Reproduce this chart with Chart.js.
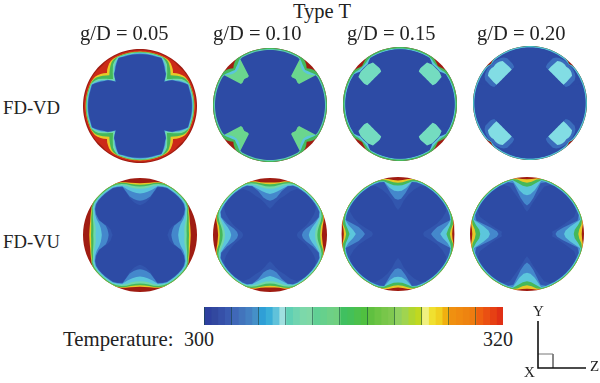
<!DOCTYPE html>
<html><head><meta charset="utf-8">
<script src="https://cdn.jsdelivr.net/npm/chart.js@4"></script>
<style>
html,body{margin:0;padding:0;background:#fff;width:600px;height:383px;overflow:hidden}
canvas{position:absolute;filter:blur(.4px)}
.t{position:absolute;font-family:"Liberation Serif",serif;line-height:20px;color:#222;white-space:pre}
</style></head><body>
<script>
// temperature scale and colour-bar strips
const tempMin = 300, tempMax = 320, tempBands = 11;
const barColors = ['#2e409f','#32489f','#3650a8','#3a5ab0','#4068b8','#4274bc','#4480c2','#4590c8','#2f9fd6','#3aaed8','#60c2da','#a0e0e0','#60d0b4','#70d4b0','#7cd8aa','#80d8a6','#60d094','#66d08c','#6ed086','#70d080','#40c060','#44c058','#4cc04c','#50c040','#60c040','#6cc444','#78c64a','#80c850','#90d060','#a0d450','#b0d630','#c0d820','#f0f080','#f0e030','#f0d020','#f0b010','#f09010','#f08a10','#ee8410','#ee7c10','#ee6010','#ea5012','#e64014','#e03015'];

// triad (axes symbol)
const triadAxisX = [0, 0, 48], triadAxisY = [47, 0, 0];
const triadBoxX = [0, 15, 15], triadBoxY = [14, 14, 0];

// contour levels: radius in % of the disk radius; outer level first
const pal = {dark:'#a01c12',red:'#cc2a18',yel:'#e8c828',grn:'#45b85a',teal:'#72d8a8',cyan:'#5cc6dc',lblue:'#4488cc',mid:'#3256ae',navy:'#2d4ba5',mint:'#6ad68e',aqua:'#74dcc0',pale:'#82dde4',halo:'#3a6cbc',rim:'#38b0a8'};

// FD-VD rows: angle from top 0..45 deg, step 3
const diskVD05 = [
 ['dark',[100,100,100,100,100,100,100,100,100,100,100,100,100,100,100,100]],
 ['red',[98,98,98,98,98,98,98,98,98,98,98,98,98,98,97,97]],
 ['yel',[95.5,95.5,95.5,95.5,95.5,95.5,95.5,95.5,95.5,95.5,95,94,92,89,86,82]],
 ['grn',[95,95,95,95,95,95,95,95,95,94.5,93.5,91.5,88,84,80,76]],
 ['teal',[94,94,94,94,94,94,94,94,94.5,92.5,90,87,81,76,71,67]],
 ['cyan',[93,93,93,93,93,93,93,93,93.5,91,87,83,77,73,67,63]],
 ['lblue',[92,92,92,92,92,92,92,92.3,92.8,89,85,81,76,73,66,60.5]],
 ['navy',[91,91,91,91,91,91,91,91.5,92,88,83.5,79,75,72,66,60]]];
const diskVD10 = [
 ['dark',[100,100,100,100,100,100,100,100,100,100,100,100,100,100,100,100]],
 ['grn',[100,100,100,100,100,100,100,100,100,100,100,100,100,98,95,91]],
 ['cyan',[98,98,98,98,98,98,98,98,98,98,98,97,94,91,89,87]],
 ['mint',[97,97,97,97,97,97,97,97,97,97,97,96,90,86,84,83]],
 ['navy',[96.5,96.5,96.5,96.5,96.5,96.5,96.5,96.5,96.5,96.5,96.5,95.5,63,62,63,64]]];
const diskVD15 = [
 ['dark',[100,100,100,100,100,100,100,100,100,100,100,100,100,100,100,100]],
 ['grn',[100,100,100,100,100,100,100,100,100,100,100,100,100,98,96,94]],
 ['cyan',[97.5,97.5,97.5,97.5,97.5,97.5,97.5,97.5,97.5,97.5,97.5,97,96,94,93,93]],
 ['navy',[96,96,96,96,96,96,96,96,96,96,96,96,93,90,90,90]],
 ['aqua',[60,60,60,60,60,60,60,60,60,60,74,87,88,89,89,89]],
 ['navy',[95.5,95.5,95.5,95.5,95.5,95.5,95.5,95.5,95.5,95.5,66,65,64.4,64,63.7,63.6]]];
const diskVD20 = [
 ['dark',[100,100,100,100,100,100,100,100,100,100,100,100,100,100,100,100]],
 ['rim',[100,100,100,100,100,100,100,100,100,100,100,100,100,100,99,97]],
 ['cyan',[99,99,99,99,99,99,99,99,99,99,99,99,99,99,98,96]],
 ['navy',[97.5,97.5,97.5,97.5,97.5,97.5,97.5,97.5,97.5,97.5,97.5,97.5,97.5,97.5,97,95.5]],
 ['halo',[60,60,60,60,60,60,60,60,76,88,92,94,95,96,96,95]],
 ['pale',[60,60,60,60,60,60,60,60,60,60,74,88,90,91,91,90]],
 ['navy',[97,97,97,97,97,97,97,97,68.5,67.3,66.3,65.4,64.8,64.3,64.1,64]]];

// FD-VU rows: angle from top 0..90 deg, step 5
const diskVU05 = [
 ['dark',[100,100,100,100,100,100,100,100,100,100,100,100,100,100,100,100,100,100,100]],
 ['yel',[91,91.5,93,96,98.5,100,100,100,100,100,100,100,98,95,92.5,90.5,89.5,89,89]],
 ['grn',[88,89,91,94.5,97.5,99.5,100,100,100,100,100,100,98,93.5,91,88.5,87,86,86]],
 ['teal',[85,86,88,92,95,97.5,98.5,98.5,98.5,98.5,98.5,98,96,91,88,85,83,82,82]],
 ['cyan',[81,82,84,89,93,96,97.5,97.5,97.5,97.5,97.5,97,94.5,89.5,86,82,79,78,78]],
 ['lblue',[73,74,77,82,91,94,95.5,95.5,95.5,95.5,95.5,95,92,87,81,74,70,68,67]],
 ['mid',[60,61,64,70,90,93,95,95,95,95,95,94,91,85,77,62,58,56,55]],
 ['navy',[52,54,58,66,88,92,94,94,94,94,94,93,90,84,75,58,52,50,48]]];
const diskVU10 = [
 ['dark',[100,100,100,100,100,100,100,100,100,100,100,100,100,100,100,100,100,100,100]],
 ['yel',[92,92.5,94,97.5,100,100,100,100,100,100,100,100,100,100,100,97.5,94,92,91]],
 ['grn',[89,90,92,96,99,100,100,100,100,100,100,100,100,100,99,96,91,89,88]],
 ['teal',[85,86,89,93,96.5,98.5,99,99,99,99,99,99,99,98.5,96.5,92,87,84,83]],
 ['cyan',[81,82,85,90,94.5,97.5,98,98,98,98,98,98,98,97.5,94.5,88,83,80,79]],
 ['lblue',[72,74,78,84,92,96,96.5,96.5,96.5,96.5,96.5,96.5,96.5,96,92,83,75,70,68]],
 ['mid',[60,62,67,80,91,95.5,96,96,96,96,96,96,96,95.5,91,78,64,58,56]],
 ['navy',[46,50,58,66,73,84,93,95.5,95.5,95.5,95.5,95.5,93,85,75,66,56,49,47]]];
const diskVU15 = [
 ['dark',[100,100,100,100,100,100,100,100,100,100,100,100,100,100,100,100,100,99,99]],
 ['yel',[94,95,98,100,100,100,100,100,100,100,100,100,100,100,100,100,99,96,95]],
 ['grn',[90,91,95,99,100,100,100,100,100,100,100,100,100,100,100,99.5,98,93,91]],
 ['cyan',[85,86,90,96,98,98.5,98.5,98.5,98.5,98.5,98.5,98.5,98.5,98.5,98,96.5,93,88,85]],
 ['lblue',[75,76,82,95,96.5,97,97,97,97,97,97,97,97,97,96.5,95.5,88,79,74]],
 ['mid',[60,62,72,94.5,96,96.5,96.5,96.5,96.5,96.5,96.5,96.5,96.5,96.5,96,95,70,62,58]],
 ['navy',[42,47,60,72,83,93,96,96,96,96,96,96,96,93,83,71,57,46,44]]];
const diskVU20 = [
 ['dark',[100,100,100,100,100,100,100,100,100,100,100,100,100,100,100,100,100,100,100]],
 ['yel',[96,97,99.5,100,100,100,100,100,100,100,100,100,100,100,100,100,99.5,97,96]],
 ['grn',[90,92,97,100,100,100,100,100,100,100,100,100,100,100,100,100,97,92,90]],
 ['cyan',[83,85,91,98,98.5,98.5,98.5,98.5,98.5,98.5,98.5,98.5,98.5,98.5,98.5,98,91,84,82]],
 ['lblue',[68,70,78,96.5,97,97,97,97,97,97,97,97,97,97,97,96.5,77,68,65]],
 ['mid',[50,54,64,92,96.5,96.5,96.5,96.5,96.5,96.5,96.5,96.5,96.5,96.5,96.5,92,64,53,50]],
 ['navy',[39,44,55,68,88,95,96,96,96,96,96,96,96,95,88,68,54,44,45]]];

// page layout of the eight panels
const panels = [
 {levels:diskVD05,half:true,left:83,top:49},
 {levels:diskVD10,half:true,left:213,top:48},
 {levels:diskVD15,half:true,left:343,top:47},
 {levels:diskVD20,half:true,left:473,top:46},
 {levels:diskVU05,half:false,left:83,top:178},
 {levels:diskVU10,half:false,left:213,top:178},
 {levels:diskVU15,half:false,left:341,top:177},
 {levels:diskVU20,half:false,left:470,top:177}];
const texts = [
 ['Type T',293,1,20.5],['g/D = 0.05',80,23,20.5],['g/D = 0.10',213,23,20.5],['g/D = 0.15',347,23,20.5],['g/D = 0.20',477,23,20.5],
 ['FD-VD',3,98,18.7],['FD-VU',3,232,18.7],['Temperature:',63,328.7,20.8],['300',184,329,20],['320',483,329,20],
 ['Y',533,301,15],['X',524,362,15],['Z',590,356,15]];

Chart.defaults.animation = false;
const baseOpts = {responsive:false,animation:false,events:[],plugins:{legend:{display:false},tooltip:{enabled:false},title:{display:false}}};

function addCanvas(l,t,w,h){
  const c=document.createElement('canvas');c.width=w;c.height=h;
  c.style.left=l+'px';c.style.top=t+'px';c.style.width=w+'px';c.style.height=h+'px';
  document.body.appendChild(c);return c;
}
function unfold(row,half){
  const quad = half ? row.concat(row.slice(0,-1).reverse()) : row;
  const side = quad.concat(quad.slice(1,-1).reverse());
  return side.concat(side);
}
panels.forEach(p=>{
  const ds = p.levels.map(([c,row])=>({data:unfold(row,p.half),backgroundColor:pal[c],fill:true,borderWidth:0,pointRadius:0,tension:0}));
  new Chart(addCanvas(p.left,p.top,114,114),{type:'radar',
    data:{labels:ds[0].data.map((_,i)=>String(i)),datasets:ds.reverse()},
    options:{...baseOpts,scales:{r:{display:false,min:0,max:100}}}});
});

// colour bar: floating bars along the temperature axis
const stripWidth=(tempMax-tempMin)/barColors.length;
new Chart(addCanvas(204,307,299,18),{type:'bar',
  data:{labels:['T'],datasets:barColors.map((c,i)=>({data:[[tempMin+i*stripWidth,tempMin+(i+1)*stripWidth+0.02]],backgroundColor:c,borderWidth:0,grouped:false,barPercentage:1,categoryPercentage:1}))},
  options:{...baseOpts,indexAxis:'y',scales:{
    x:{min:tempMin,max:tempMax,border:{display:false},
       ticks:{display:false,stepSize:(tempMax-tempMin)/tempBands},
       grid:{color:'rgba(20,70,60,.55)',lineWidth:1,z:1,drawTicks:false}},
    y:{display:false}}}});

// axes triad
new Chart(addCanvas(530,315,70,60),{type:'scatter',
  data:{datasets:[
    {data:triadAxisX.map((x,i)=>({x,y:triadAxisY[i]})),showLine:true,borderColor:'#111',borderWidth:1.6,pointRadius:0},
    {data:triadBoxX.map((x,i)=>({x,y:triadBoxY[i]})),showLine:true,borderColor:'#777',borderWidth:1,pointRadius:0}]},
  options:{...baseOpts,scales:{x:{display:false,min:-8,max:62},y:{display:false,min:-7,max:53}}}});

texts.forEach(([s,l,t,z])=>{
  const d=document.createElement('div');d.className='t';d.textContent=s;
  d.style.left=l+'px';d.style.top=t+'px';d.style.fontSize=z+'px';
  document.body.appendChild(d);
});
</script>
</body></html>
